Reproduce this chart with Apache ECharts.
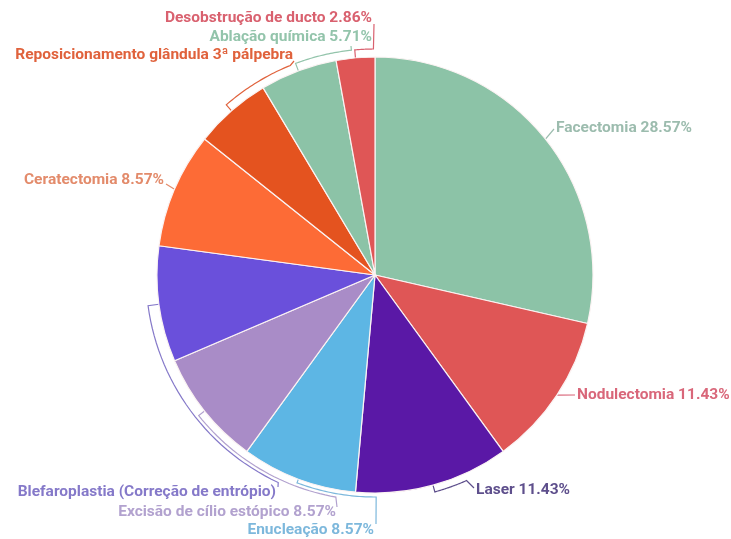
<!DOCTYPE html>
<html>
<head>
<meta charset="utf-8">
<script src="https://cdn.jsdelivr.net/npm/echarts@6/dist/echarts.min.js"></script>
<style>
  html, body { margin: 0; padding: 0; background: #ffffff; }
  #chart { width: 731px; height: 539px; }
</style>
</head>
<body>
<div id="chart"></div>
<script>
// Procedures performed, in clockwise order from 12 o'clock
const procedures = [
  'Facectomia',
  'Nodulectomia',
  'Laser',
  'Enucleação',
  'Excisão de cílio estópico',
  'Blefaroplastia (Correção de entrópio)',
  'Ceratectomia',
  'Reposicionamento glândula 3ª pálpebra',
  'Ablação química',
  'Desobstrução de ducto'
];
const counts = [10, 4, 4, 3, 3, 3, 3, 2, 2, 1];
const sliceColors = [
  '#8cc3a7', '#df5656', '#5a18a6', '#5db6e4', '#a98cc7',
  '#6a50db', '#fd6b36', '#e4531f', '#8cc3a7', '#df5656'
];
const labelColors = [
  '#9cbcae', '#d9677a', '#5e4f8c', '#7db8dc', '#b2a2cf',
  '#8579c9', '#e38b6b', '#e0623c', '#93c4ab', '#d9616f'
];
// Labels that show only the procedure name
const nameOnlyLabels = [
  'Blefaroplastia (Correção de entrópio)',
  'Reposicionamento glândula 3ª pálpebra'
];

// Pie geometry (px)
const CX = 375, CY = 275, R = 218;

// Leader routes: optional ring segment outside the pie (radius, end angle in
// degrees clockwise from top), a tail point and the label anchor.
const leaders = [
  { ring: 0,     tail: [554, 129], at: [556, 128], align: 'left' },
  { ring: 0,     tail: [575, 395], at: [577, 395], align: 'left' },
  { ring: 225,   end: 156,   tail: [474, 488], at: [476, 490], align: 'left' },
  { ring: 222,   end: 179.7, tail: [376, 524], at: [374, 530], align: 'right' },
  { ring: 225.5, end: 190,   tail: [337, 507], at: [336, 512], align: 'right' },
  { ring: 229,   end: 205,   tail: [278, 487], at: [276, 492], align: 'right' },
  { ring: 0,     tail: [166, 184], at: [164, 180], align: 'right' },
  { ring: 226,   end: 338,   tail: [294, 61],  at: [293, 55],  align: 'right' },
  { ring: 226,   end: 354,   tail: [351, 46],  at: [372, 37],  align: 'right' },
  { ring: 226,   end: 359.6, tail: [374, 24],  at: [372, 18],  align: 'right' }
];

const total = counts.reduce((a, b) => a + b, 0);
const midAngles = [];
let acc = 0;
counts.forEach(c => { midAngles.push((acc + c / 2) / total * 360); acc += c; });

function arcPoint(r, deg) {
  const a = deg * Math.PI / 180;
  return [CX + r * Math.sin(a), CY - r * Math.cos(a)];
}

const seriesData = procedures.map((name, i) => ({
  name: name,
  value: counts[i],
  itemStyle: { color: sliceColors[i] },
  label: { color: labelColors[i] },
  labelLine: { lineStyle: { color: labelColors[i] } }
}));

const chart = echarts.init(document.getElementById('chart'), null, { renderer: 'canvas' });
chart.setOption({
  backgroundColor: '#ffffff',
  animation: false,
  series: [{
    type: 'pie',
    center: [CX, CY],
    radius: R,
    startAngle: 90,
    clockwise: true,
    avoidLabelOverlap: false,
    data: seriesData,
    itemStyle: { borderColor: '#fbf3f3', borderWidth: 1.2 },
    label: {
      show: true,
      position: 'outside',
      fontFamily: 'Roboto',
      fontWeight: 'bold',
      fontSize: 15.5,
      formatter: p => nameOnlyLabels.includes(p.name)
        ? p.name
        : p.name + ' ' + (p.value / total * 100).toFixed(2) + '%'
    },
    labelLine: { show: true, length: 10, length2: 10, lineStyle: { width: 1.2 } },
    emphasis: { disabled: true },
    labelLayout: function (params) {
      const i = params.dataIndex;
      const L = leaders[i];
      const pts = [arcPoint(R, midAngles[i])];
      if (L.ring) {
        const steps = 30;
        for (let k = 0; k <= steps; k++) {
          pts.push(arcPoint(L.ring, midAngles[i] + (L.end - midAngles[i]) * k / steps));
        }
      }
      pts.push(L.tail);
      return {
        x: L.at[0],
        y: L.at[1],
        align: L.align,
        verticalAlign: 'middle',
        labelLinePoints: pts
      };
    }
  }]
});
</script>
</body>
</html>
